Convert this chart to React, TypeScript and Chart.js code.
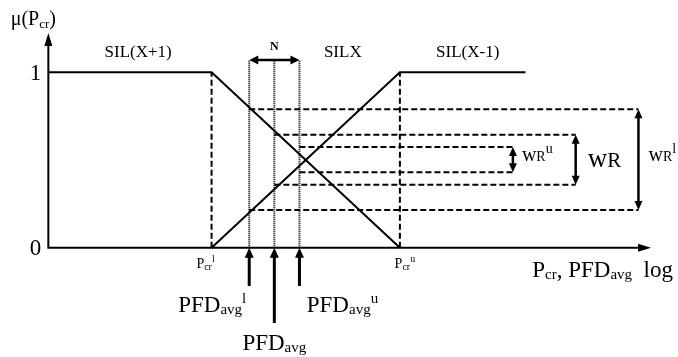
import React, { useEffect, useRef } from "react";
import { Chart, registerables } from "chart.js";

Chart.register(...registerables);

const FONT = '"Liberation Serif", "DejaVu Serif", serif';

// Abstract (log-like) abscissa: 0 = membership axis
const X_MIN = -0.77;
const X_MAX = 10.03;
const Y_MIN = -0.623;
const Y_MAX = 1.4123;

const axisTopMu = 1.224;
const axisEndX = 9.6;
const yTicks = [0, 1];

const pcrX = [2.6, 5.6]; // Pcr^l, Pcr^u
const silHighX = [0, 2.6, 5.6]; // SIL(X+1)
const silHighMu = [1, 1, 0];
const silLowX = [2.6, 5.6, 7.6]; // SIL(X-1)
const silLowMu = [0, 1, 1];

const pfdX = [3.2, 3.6, 4.0]; // PFDavg^l, PFDavg, PFDavg^u
const pfdArrowMu = [-0.218, -0.429, -0.218];
const nBarMu = 1.07;

const cutHigh = [0.789, 0.644, 0.574];
const cutLow = [0.215, 0.359, 0.43];
const wArrowX = [9.4, 8.4, 7.4]; // wR^l, wR, wR^u

const silLabelX = [1.43, 4.69, 6.68];
const silLabels = ["SIL(X+1)", "SILX", "SIL(X-1)"];

type Seg = [string, number, number, string?];

function drawRich(ctx: CanvasRenderingContext2D, segs: Seg[], x: number, y: number, align: "left" | "center" | "right") {
  let total = 0;
  const widths: number[] = [];
  for (const [t, s, , w] of segs) {
    ctx.font = `${w || "normal"} ${s}px ${FONT}`;
    const m = ctx.measureText(t).width;
    widths.push(m);
    total += m;
  }
  let cx = align === "center" ? x - total / 2 : align === "right" ? x - total : x;
  ctx.textAlign = "left";
  ctx.textBaseline = "alphabetic";
  segs.forEach(([t, s, dy, w], i) => {
    ctx.font = `${w || "normal"} ${s}px ${FONT}`;
    ctx.fillText(t, cx, y + dy);
    cx += widths[i];
  });
}

function head(ctx: CanvasRenderingContext2D, x: number, y: number, dir: string, len: number, half: number) {
  ctx.beginPath();
  if (dir === "up") {
    ctx.moveTo(x, y);
    ctx.lineTo(x - half, y + len);
    ctx.lineTo(x + half, y + len);
  } else if (dir === "down") {
    ctx.moveTo(x, y);
    ctx.lineTo(x - half, y - len);
    ctx.lineTo(x + half, y - len);
  } else if (dir === "left") {
    ctx.moveTo(x, y);
    ctx.lineTo(x + len, y - half);
    ctx.lineTo(x + len, y + half);
  } else {
    ctx.moveTo(x, y);
    ctx.lineTo(x - len, y - half);
    ctx.lineTo(x - len, y + half);
  }
  ctx.closePath();
  ctx.fill();
}

const decorPlugin = {
  id: "decor",
  afterDatasetsDraw(chart: any) {
    const ctx: CanvasRenderingContext2D = chart.ctx;
    const X = (v: number) => chart.scales.x.getPixelForValue(v);
    const Y = (v: number) => chart.scales.y.getPixelForValue(v);
    ctx.save();
    ctx.fillStyle = "#000";
    // axis arrowheads
    head(ctx, X(0), Y(axisTopMu), "up", 13, 4);
    head(ctx, X(axisEndX), Y(0), "right", 13, 4);
    // N arrow
    head(ctx, X(pfdX[0]), Y(nBarMu), "left", 9, 4.5);
    head(ctx, X(pfdX[2]), Y(nBarMu), "right", 9, 4.5);
    // width arrows
    wArrowX.forEach((wx, i) => {
      head(ctx, X(wx), Y(cutHigh[i]), "up", 9, 4);
      head(ctx, X(wx), Y(cutLow[i]), "down", 9, 4);
    });
    // PFD arrows
    pfdX.forEach((px) => head(ctx, X(px), Y(0), "up", 10, 4.5));

    // texts
    drawRich(ctx, [["μ(P", 20, 0], ["cr", 13, 3], [")", 20, 0]], X(0) - 15, Y(axisTopMu) - 8, "center");
    silLabels.forEach((t, i) => drawRich(ctx, [[t, 17, 0]], X(silLabelX[i]), Y(nBarMu) - 3, "center"));
    drawRich(ctx, [["N", 12, 0, "bold"]], X(pfdX[1]), Y(nBarMu) - 10, "center");
    yTicks.forEach((v) => drawRich(ctx, [[String(v), 23, 0]], X(0) - 7, Y(v) + 7.5, "right"));

    drawRich(ctx, [["P", 14, 0], ["cr", 10, 2], ["l", 10, -6]], X(pcrX[0]) - 6, Y(0) + 20, "center");
    drawRich(ctx, [["P", 14, 0], ["cr", 10, 2], ["u", 10, -6]], X(pcrX[1]) + 5, Y(0) + 20, "center");

    drawRich(ctx, [["PFD", 23, 0], ["avg", 15, 2], ["l", 15, -9]], X(pfdX[0]) - 37, Y(0) + 64, "center");
    drawRich(ctx, [["PFD", 23, 0], ["avg", 15, 2]], X(pfdX[1]), Y(0) + 102, "center");
    drawRich(ctx, [["PFD", 23, 0], ["avg", 15, 2], ["u", 15, -9]], X(pfdX[2]) + 43, Y(0) + 64, "center");

    drawRich(
      ctx,
      [["P", 23, 0], ["cr", 15, 2], [", PFD", 23, 0], ["avg", 15, 2], ["  log", 23, 0]],
      X(axisEndX) + 22,
      Y(0) + 29,
      "right"
    );

    const midOf = (i: number) => Y((cutHigh[i] + cutLow[i]) / 2);
    drawRich(ctx, [["w", 20, 0], ["R", 14, 0], ["u", 14, -8]], X(wArrowX[2]) + 9, midOf(2) + 1, "left");
    drawRich(ctx, [["w", 27, 0], ["R", 21, 0]], X(wArrowX[1]) + 12, midOf(1) + 7, "left");
    drawRich(ctx, [["w", 20, 0], ["R", 14, 0], ["l", 14, -8]], X(wArrowX[0]) + 10, midOf(0) + 1, "left");
    ctx.restore();
  },
};

const zip = (xs: number[], ys: number[]) => xs.map((x, i) => ({ x, y: ys[i] }));

function line(data: { x: number; y: number }[], width: number, dash: number[] = []) {
  return {
    data,
    showLine: true,
    borderColor: "#000",
    backgroundColor: "#000",
    borderWidth: width,
    borderDash: dash,
    pointRadius: 0,
    fill: false,
    tension: 0,
    borderCapStyle: "butt",
    borderJoinStyle: "miter",
  };
}

export default function App() {
  const ref = useRef<HTMLCanvasElement>(null);
  useEffect(() => {
    if (!ref.current) return;
    const datasets: any[] = [];
    // axes
    datasets.push(line([{ x: 0, y: axisTopMu - 0.03 }, { x: 0, y: 0 }, { x: axisEndX - 0.08, y: 0 }], 2));
    // membership functions
    datasets.push(line(zip(silHighX, silHighMu), 2));
    datasets.push(line(zip(silLowX, silLowMu), 2));
    // dashed verticals at Pcr bounds
    pcrX.forEach((px) => datasets.push(line([{ x: px, y: 0 }, { x: px, y: 1 }], 2, [6, 3])));
    // dotted verticals at PFD values
    pfdX.forEach((px) => datasets.push(line([{ x: px, y: 0 }, { x: px, y: nBarMu }], 2, [1, 1])));
    // horizontal cut lines
    pfdX.forEach((px, i) => {
      datasets.push(line([{ x: px, y: cutHigh[i] }, { x: wArrowX[i], y: cutHigh[i] }], 2, [6, 3]));
      datasets.push(line([{ x: px, y: cutLow[i] }, { x: wArrowX[i], y: cutLow[i] }], 2, [6, 3]));
      // width arrow shafts
      datasets.push(line([{ x: wArrowX[i], y: cutHigh[i] - 0.03 }, { x: wArrowX[i], y: cutLow[i] + 0.03 }], 2.5));
      // PFD arrows
      datasets.push(line([{ x: px, y: 0 - 0.03 }, { x: px, y: pfdArrowMu[i] }], 3));
    });
    // N arrow shaft
    datasets.push(line([{ x: pfdX[0] + 0.08, y: nBarMu }, { x: pfdX[2] - 0.08, y: nBarMu }], 2.5));

    const chart = new Chart(ref.current, {
      type: "scatter",
      data: { datasets },
      options: {
        responsive: false,
        maintainAspectRatio: false,
        animation: false,
        devicePixelRatio: 1,
        events: [],
        layout: { padding: 0 },
        plugins: { legend: { display: false }, tooltip: { enabled: false }, title: { display: false } },
        scales: {
          x: { type: "linear", display: false, min: X_MIN, max: X_MAX },
          y: { type: "linear", display: false, min: Y_MIN, max: Y_MAX },
        },
      } as any,
      plugins: [decorPlugin],
    });
    return () => chart.destroy();
  }, []);
  return (
    <div style={{ position: "absolute", left: 0, top: 0, width: 678, height: 357, background: "#fff" }}>
      <canvas ref={ref} width={678} height={357} style={{ display: "block", width: 678, height: 357 }} />
    </div>
  );
}
